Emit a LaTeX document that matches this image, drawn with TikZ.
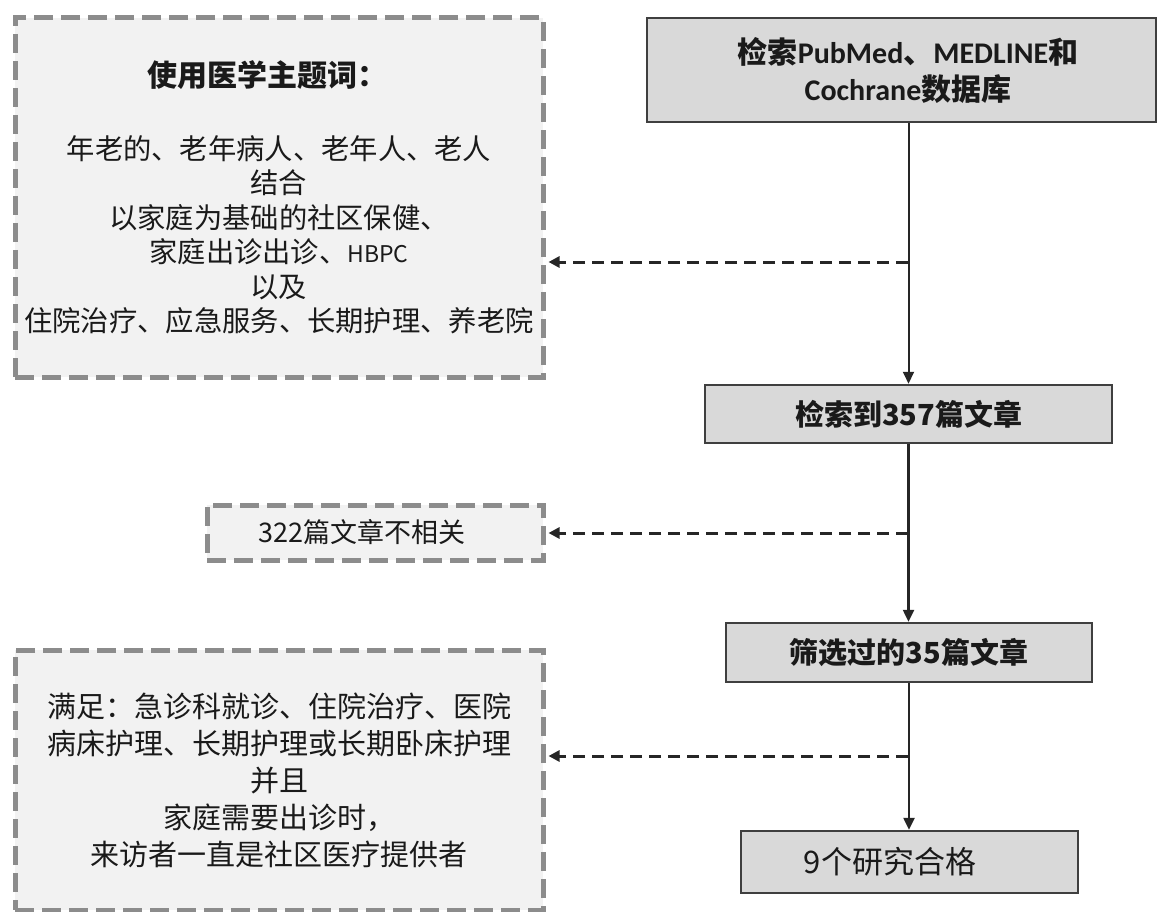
\documentclass[tikz,border=0pt]{standalone}
\usepackage{fontspec}
\setmainfont{Liberation Sans}
\newfontfamily\cjk{Noto Sans CJK SC}
\newfontfamily\carl{Carlito}
\usetikzlibrary{arrows.meta}
\definecolor{lfill}{HTML}{F2F2F2}
\definecolor{lborder}{HTML}{8C8C8C}
\definecolor{rfill}{HTML}{D9D9D9}
\definecolor{rborder}{HTML}{3F3F3F}
\definecolor{txt}{HTML}{1A1A1A}
\tikzset{
  lbox/.style={draw=lborder, fill=lfill, line width=5pt, dash pattern=on 19pt off 8pt,
    inner sep=0pt, align=center, text=txt, font=\cjk\fontsize{27}{35}\selectfont},
  rbox/.style={draw=rborder, fill=rfill, line width=2.5pt, inner sep=0pt, align=center,
    text=txt, font=\cjk\fontsize{29}{37}\selectfont\bfseries},
  arr/.style={draw=black!85, line width=2.5pt, -{Triangle[length=12pt,width=11pt]}},
  darr/.style={draw=black!85, line width=3pt, dash pattern=on 12pt off 7pt,
    -{Triangle[length=11pt,width=11pt]}, shorten >=3pt}
}
\begin{document}
\begin{tikzpicture}[x=1pt,y=-1pt]
\useasboundingbox (0,0) rectangle (1159,912);
% right column
\node[rbox, minimum width=509pt, minimum height=104pt, font=\cjk\fontsize{30}{37}\selectfont\bfseries]
  (b1) at (901.5,70) {\hspace*{13pt}检索{\carl\bfseries PubMed}、{\carl\bfseries MEDLINE}和\\\hspace*{13pt}{\carl\bfseries Cochrane}数据库};
\node[rbox, minimum width=407pt, minimum height=58pt] (b2) at (908.5,414) {检索到357篇文章};
\node[rbox, minimum width=366pt, minimum height=59pt] (b3) at (909,652.5) {筛选过的35篇文章};
\node[rbox, minimum width=337pt, minimum height=62pt, font=\cjk\fontsize{31}{37}\selectfont]
  (b4) at (909.5,862) {9个研究合格\hspace*{39pt}};
% left column
\node[lbox, minimum width=528pt, minimum height=359pt, font=\cjk\fontsize{28.3}{34.5}\selectfont] (l1) at (279,197.5)
  {{\fontsize{30}{34.5}\selectfont\bfseries 使用医学主题词：\hspace*{22pt}}\\[38pt]
   年老的、老年病人、老年人、老人\hspace*{20pt}\\
   结合\\
   以家庭为基础的社区保健、\hspace*{40pt}\\
   家庭出诊出诊、{\fontsize{23}{34.5}\selectfont HBPC}\hspace*{70pt}\\
   以及\\
   住院治疗、应急服务、长期护理、养老院};
\node[lbox, minimum width=336pt, minimum height=55pt] (l2) at (375,532.5)
  {322篇文章不相关\hspace*{26pt}};
\node[lbox, minimum width=528pt, minimum height=260pt, font=\cjk\fontsize{29}{37}\selectfont] (l3) at (279,780)
  {满足：急诊科就诊、住院治疗、医院\\
   病床护理、长期护理或长期卧床护理\\
   并且\\
   家庭需要出诊时，\\
   来访者一直是社区医疗提供者};
% connectors
\draw[arr, line width=2pt] (b1.south -| b2.north) -- (b2.north);
\draw[arr] (b2.south) -- (b2.south |- b3.north);
\draw[arr] (b3.south) -- (b3.south |- b4.north);
\coordinate (j1) at (908,262);
\coordinate (j2) at (908,533);
\coordinate (j3) at (908,756);
\draw[darr] (j1) -- (j1 -| l1.east);
\draw[darr] (j2) -- (j2 -| l2.east);
\draw[darr] (j3) -- (j3 -| l3.east);
\end{tikzpicture}
\end{document}
